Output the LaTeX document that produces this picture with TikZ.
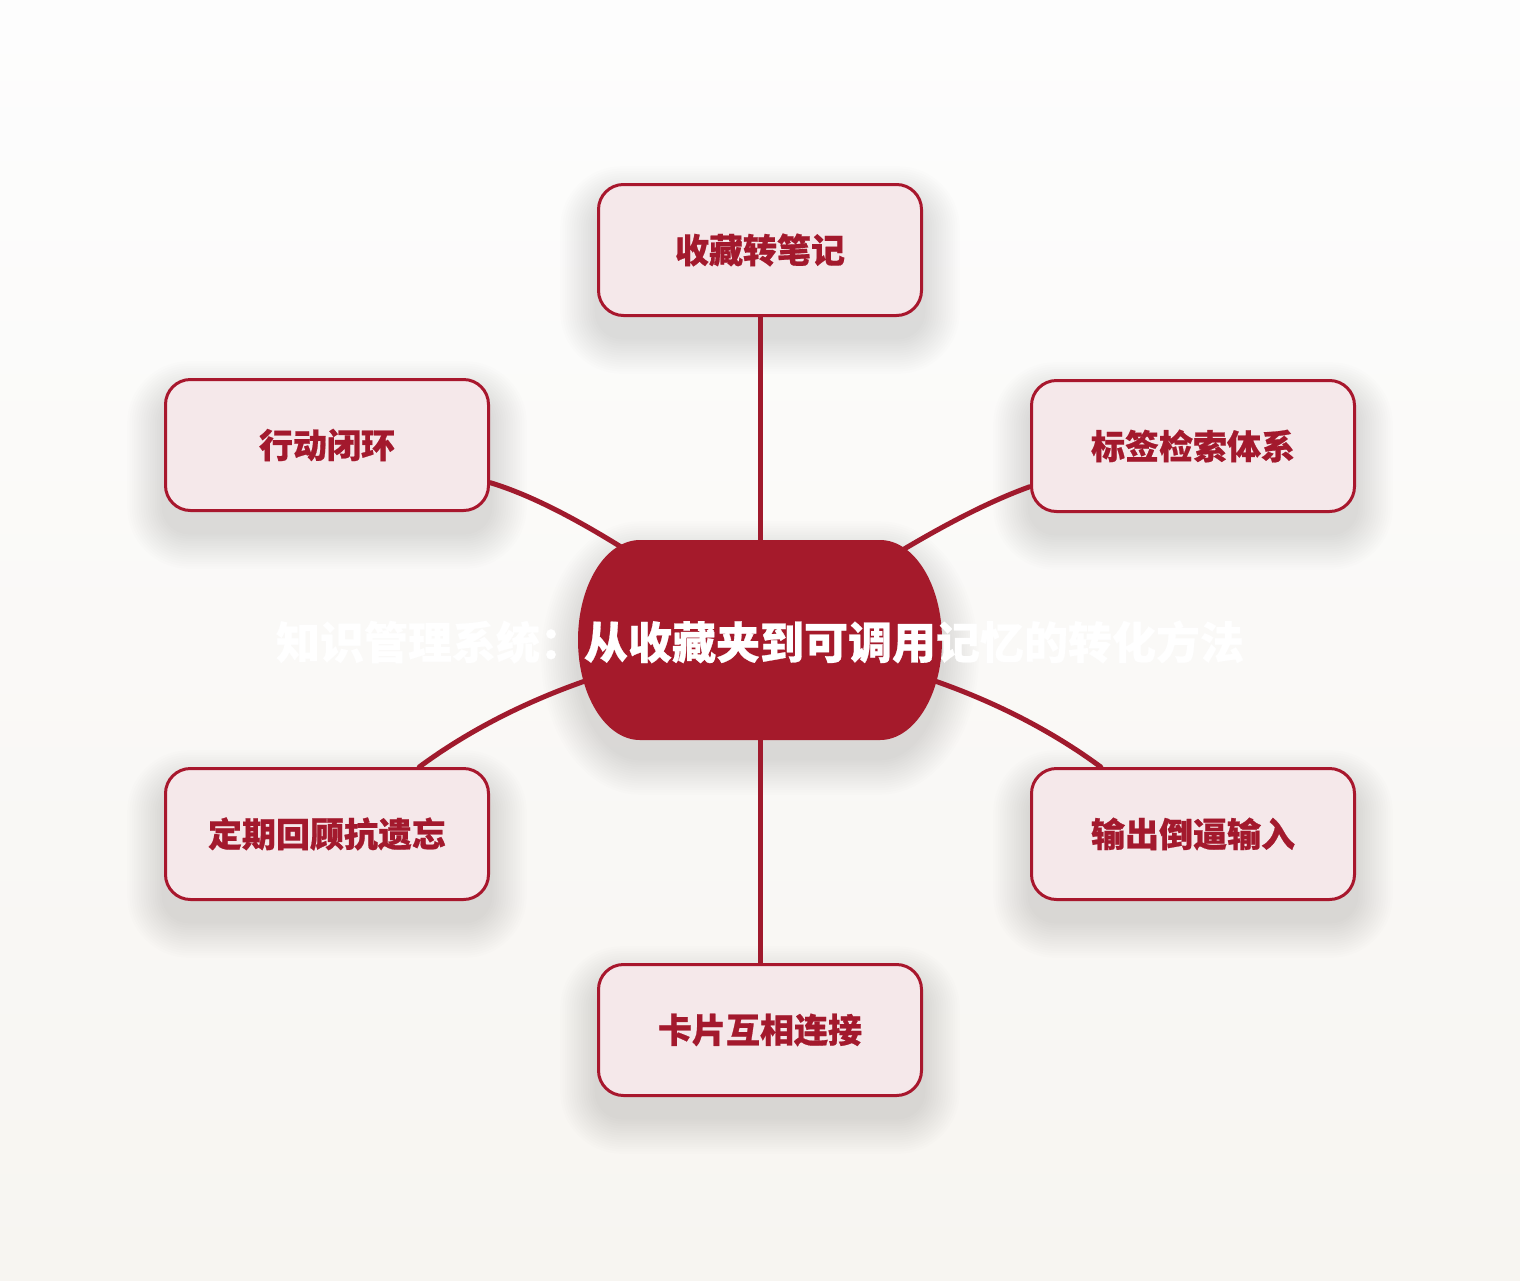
\documentclass[tikz,border=0pt]{standalone}
\usepackage{fontspec}
\newfontfamily\cjk{Noto Sans CJK SC}[BoldFeatures={FakeBold=0.6}]
\definecolor{bgtop}{HTML}{FDFDFD}
\definecolor{bgbot}{HTML}{F7F5F1}
\definecolor{boxfill}{HTML}{F5E8EA}
\definecolor{boxline}{HTML}{A8172D}
\definecolor{boxtext}{HTML}{A3192D}
\definecolor{hubfill}{HTML}{A51A2B}
\definecolor{linkc}{HTML}{A01A2D}
\pgfdeclarelayer{back}
\pgfdeclarelayer{links}
\pgfsetlayers{back,links,main}
\tikzset{
  topic/.style={draw=boxline, line width=3pt, fill=boxfill, rounded corners=25pt,
    minimum width=323pt, minimum height=131pt, inner sep=0pt, text=boxtext,
    font=\cjk\bfseries\fontsize{34}{40}\selectfont},
  hubtext/.style={text=white, inner sep=0pt, font=\cjk\bfseries\fontsize{44}{52}\selectfont},
  link/.style={draw=linkc, line width=5pt, line cap=round},
  shad/.style={fill=black, fill opacity=0.0068},
}
\begin{document}
\begin{tikzpicture}[x=1pt,y=-1pt]
\useasboundingbox (0,0) rectangle (1520,1280);
\begin{pgfonlayer}{back}
  \shade[top color=bgtop,bottom color=bgbot] (0,0) rectangle (1520,1280);
  \foreach \cx/\cy in {760/250, 327/445, 1193/446, 327/834, 1193/834, 760/1030}{
    \foreach \k in {1,...,16}{
      \pgfmathsetmacro\d{2.3*\k}
      \pgfmathsetmacro\r{25+\d}
      \fill[shad, rounded corners=\r pt] (\cx-163-\d, \cy-67-\d+20) rectangle (\cx+163+\d, \cy+67+\d+20);
    }
  }
  \foreach \k in {1,...,16}{
    \pgfmathsetmacro\d{2.3*\k}
    \fill[shad] (640,540-\d+18) -- (880,540-\d+18)
      arc[start angle=-90,end angle=90,x radius=62+\d,y radius=100+\d]
      -- (640,740+\d+18)
      arc[start angle=90,end angle=270,x radius=62+\d,y radius=100+\d] -- cycle;
  }
\end{pgfonlayer}

\fill[hubfill] (640,540) -- (880,540)
  arc[start angle=-90,end angle=90,x radius=62,y radius=100]
  -- (640,740)
  arc[start angle=90,end angle=270,x radius=62,y radius=100] -- cycle;

\node[topic] (t1) at (760,250) {收藏转笔记};
\node[topic] (t2) at (1193,446) {标签检索体系};
\node[topic] (t3) at (1193,834) {输出倒逼输入};
\node[topic] (t4) at (760,1030) {卡片互相连接};
\node[topic] (t5) at (327,834) {定期回顾抗遗忘};
\node[topic] (t6) at (327,445) {行动闭环};
\node[hubtext] (hub) at (760,642) {知识管理系统：从收藏夹到可调用记忆的转化方法};

\begin{pgfonlayer}{links}
  \draw[link] (t1.south) -- (hub.center);
  \draw[link] (t6.-13) .. controls +(70,21) and +(-110,-80) .. (hub.center);
  \draw[link] (t2.194) .. controls +(-70,25) and +(110,-75) .. (hub.center);
  \draw[link] (t5.36) .. controls +(50,-37) and +(-180,20) .. (hub.center);
  \draw[link] (t3.144) .. controls +(-50,-37) and +(180,20) .. (hub.center);
  \draw[link] (t4.north) -- (hub.center);
\end{pgfonlayer}
\end{tikzpicture}
\end{document}
